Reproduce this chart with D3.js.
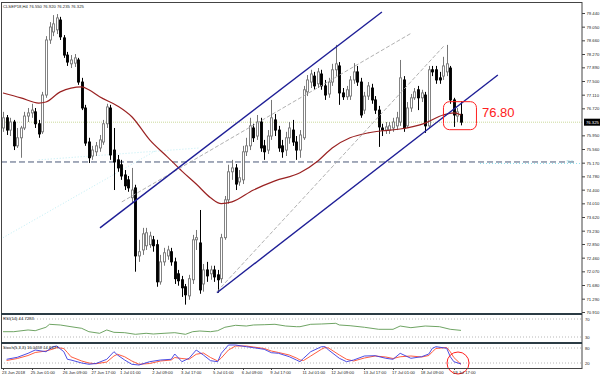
<!DOCTYPE html>
<html>
<head>
<meta charset="utf-8">
<script src="https://cdn.jsdelivr.net/npm/d3@7"></script>
<style>
  body { margin: 0; background: #fff; }
  svg { display: block; font-family: "Liberation Sans", Arial, sans-serif; }
</style>
</head>
<body>
<svg id="chart"></svg>
<script>
// CLSEP18, H4 candles (bar index 0..128)
const opens = [76.16,76.45,76.10,76.33,75.65,75.88,76.16,76.50,76.59,76.62,
  76.28,76.05,77.10,78.67,78.90,78.96,79.24,78.73,78.24,77.99,
  78.01,78.10,77.47,76.73,75.76,75.36,75.48,75.59,75.76,76.28,
  76.73,75.53,75.25,75.11,74.82,74.68,74.17,74.45,72.51,72.68,
  72.80,72.83,72.97,72.83,71.77,72.34,72.51,72.63,72.34,72.00,
  71.83,71.63,71.37,71.83,72.97,72.88,71.71,72.11,72.00,72.11,
  71.97,71.86,73.03,74.11,74.91,75.02,74.62,74.68,75.48,75.65,
  76.16,75.93,76.33,75.65,75.53,75.93,76.39,76.10,75.65,75.53,
  75.88,76.10,75.76,75.53,75.88,77.19,77.47,77.64,77.42,77.70,
  77.36,77.13,77.47,77.82,77.93,77.16,77.05,77.07,77.53,77.76,
  77.47,76.67,77.07,77.30,76.96,76.67,76.16,76.10,76.10,76.16,
  76.22,76.33,77.53,76.22,76.73,77.02,77.25,77.02,77.10,76.22,
  77.82,77.82,77.59,77.64,77.76,77.87,76.96,76.50,76.55];
const highs = [76.62,76.53,76.45,76.39,76.16,76.22,76.62,76.73,76.85,76.73,
  76.39,77.19,78.78,79.18,79.38,79.41,79.33,78.81,78.33,78.24,
  78.27,78.16,77.59,76.82,75.88,75.65,75.76,75.96,76.39,76.85,
  76.82,76.16,75.39,75.25,74.96,74.79,75.02,74.54,72.97,73.31,
  73.31,73.20,73.08,72.97,72.54,72.74,72.80,72.74,72.46,72.11,
  71.94,71.71,71.97,73.11,73.25,73.82,72.28,72.34,72.23,72.23,
  72.11,73.14,74.22,75.11,75.25,75.13,74.96,75.65,75.88,76.45,
  76.28,76.53,76.45,75.82,76.10,76.96,76.56,76.22,75.82,76.05,
  76.33,76.39,75.93,76.10,77.36,77.67,77.82,77.76,77.87,77.82,
  77.53,77.59,77.99,78.53,78.04,77.30,77.36,77.64,78.01,77.93,
  77.59,77.19,77.47,77.42,77.07,76.79,76.28,76.33,76.33,76.45,
  76.62,78.10,77.64,76.90,77.13,77.30,77.36,77.25,77.19,77.93,
  77.93,77.93,77.76,78.19,78.53,77.93,77.02,76.73,76.92];
const lows = [76.05,75.96,75.93,75.53,75.59,75.31,76.10,76.33,76.45,76.16,
  75.88,75.99,77.02,78.56,78.78,78.84,78.67,78.16,77.93,77.87,
  77.90,77.39,76.67,75.65,75.16,75.25,75.36,75.48,75.68,76.16,
  75.25,74.39,74.91,74.68,74.39,74.34,74.02,72.06,72.34,72.54,
  72.68,72.74,72.63,71.63,71.69,72.23,72.40,72.23,71.71,71.66,
  71.34,71.12,71.26,71.71,72.68,71.43,71.49,71.77,71.83,71.77,
  71.46,71.74,72.97,74.00,74.68,74.39,74.51,74.56,75.36,75.53,
  75.76,75.82,75.48,75.25,75.42,75.82,75.93,75.48,75.31,75.36,
  75.71,75.65,75.25,75.31,75.82,77.07,77.30,77.25,77.30,77.25,
  76.96,77.02,77.36,77.64,76.82,76.96,76.96,76.96,77.42,77.36,
  76.45,76.56,76.96,76.85,76.56,75.62,75.93,75.99,75.99,76.05,
  76.10,76.22,76.05,76.16,76.62,76.96,76.67,76.90,76.02,76.16,
  77.64,77.42,77.42,77.53,77.64,76.85,76.19,76.33,76.235];
const closes = [76.45,76.10,76.33,75.65,75.88,76.16,76.50,76.59,76.67,76.28,
  75.99,77.10,78.67,79.04,79.13,79.30,78.76,78.24,78.04,78.10,
  78.16,77.47,76.73,75.73,75.31,75.53,75.65,75.82,76.28,76.76,
  75.39,75.19,75.02,74.79,74.51,74.45,74.39,72.51,72.63,73.14,
  73.17,73.08,72.80,71.77,72.34,72.60,72.68,72.34,71.86,71.80,
  71.60,71.40,71.86,72.97,73.03,71.54,72.11,71.94,72.11,71.91,
  71.83,73.03,74.11,74.91,75.02,74.56,74.74,75.48,75.65,76.22,
  75.88,76.33,75.59,75.48,75.93,76.45,76.10,75.59,75.48,75.88,
  76.16,75.76,75.53,75.96,77.25,77.53,77.70,77.36,77.76,77.36,
  77.10,77.47,77.82,77.99,77.16,77.05,77.25,77.53,77.76,77.47,
  76.53,77.07,77.36,76.96,76.67,76.19,76.10,76.19,76.22,76.33,
  76.45,77.59,76.16,76.73,77.02,77.19,77.02,77.16,76.22,77.82,
  77.76,77.53,77.53,77.93,77.99,76.96,76.53,76.62,76.325];

// moving average: [bar index, price]
const maPoints = [[0,77.16],[5,77.02],[10,76.87],[12,76.90],[16,77.19],[22,77.33],[24,77.25],
  [27,77.05],[32,76.79],[36,76.48],[41,75.82],[46,75.33],[50,74.93],[54,74.56],[58,74.17],
  [61,74.00],[64,74.05],[70,74.39],[76,74.65],[83,74.88],[88,75.22],[92,75.59],[97,75.88],
  [102,76.02],[106,76.08],[111,76.13],[118,76.30],[123,76.53],[126,76.59],[128,76.53]];

// RSI(14): [bar index, value]
const rsiPoints = [[0,41.8],[3,41.8],[7,45.6],[9,44.0],[12,51.6],[13,58.2],[16,56.7],[19,52.9],
  [22,49.3],[24,41.8],[27,38.2],[29,45.6],[31,40.4],[34,39.6],[37,36.0],[40,38.2],[42,36.7],
  [45,38.2],[48,39.6],[51,36.0],[53,41.8],[55,43.3],[58,41.8],[60,44.0],[62,51.6],[65,56.0],
  [68,54.4],[70,56.7],[73,57.3],[76,58.2],[79,54.4],[82,52.9],[83,52.9],[86,58.2],[89,58.9],
  [93,60.4],[94,56.7],[97,55.1],[101,51.6],[105,47.1],[109,47.1],[111,54.4],[114,50.7],
  [118,54.4],[122,52.9],[125,47.1],[128,44.7]];

// Stochastic(5,3,3) main (blue) and signal (red)
const stochMain = [[1,34.8],[4,42.8],[7,58.8],[9,72],[12,65.2],[14,85.2],[15,88],[17,65.2],[18,34.8],
  [19,32],[22,20],[24,15],[26,18],[29,34.8],[31,65.2],[32,52],[34,32],[36,14.8],[38,12],[41,25.2],
  [44,32],[47,34.8],[48,56],[50,25.2],[52,38.8],[54,72],[56,52],[58,29.2],[60,25.2],[61,58.8],
  [63,92],[65,92],[68,85.2],[70,81.2],[73,74.8],[75,61.2],[77,58.8],[80,45.2],[82,32],[83,25.2],
  [84,38.8],[86,65.2],[89,85.2],[90,85.2],[91,72],[94,38.8],[96,25.2],[98,32],[101,48],[104,49.2],
  [107,38.8],[109,34.8],[111,58.8],[114,38.8],[117,45.2],[119,56],[120,78.8],[121,85.2],[124,78.8],
  [125,45.2],[126,25.2],[128,16.0]];
const stochSignal = [[1,30],[4,38],[7,50],[9,62],[12,68],[14,76],[15,82],[17,78],[18,62],[19,45],
  [22,28],[24,20],[26,17],[29,24],[31,48],[32,55],[34,45],[36,28],[38,15],[41,18],[44,28],[47,32],
  [48,42],[50,38],[52,35],[54,55],[56,60],[58,42],[60,28],[61,40],[63,72],[65,88],[68,88],[70,84],
  [73,78],[75,68],[77,62],[80,52],[82,40],[83,32],[84,30],[86,48],[89,75],[90,82],[91,80],[94,52],
  [96,35],[98,28],[101,40],[104,48],[107,44],[109,38],[111,45],[114,48],[117,44],[119,50],[120,65],
  [121,78],[124,82],[125,65],[126,42],[128,14.8]];

// trend lines: [bar index, price] endpoints
const channelLines = [[[27.1,73.31],[105.9,79.47]], [[59.8,71.46],[138.3,77.67]]];
const dashedLines = [[[59.8,71.49],[123.5,78.53]], [[33.2,74.05],[114.2,78.87]]];
const faintLines = [[[0,73.03],[43,75.53]], [[10,75.25],[55,75.59]]];

const priceTicks = [79.440,79.050,78.660,78.270,77.890,77.500,77.110,76.720,75.950,75.560,75.170,
  74.780,74.400,74.010,73.620,73.230,72.850,72.460,72.070,71.680,71.290,70.910];
const timeTickBars = [0,8,17,25,33,42,50,59,67,75,84,92,101,109,117,126];
const timeTickLabels = ["23 Jun 2018","25 Jun 01:00","26 Jun 09:00","27 Jun 17:00","1 Jul 01:00",
  "2 Jul 09:00","3 Jul 17:00","5 Jul 01:00","6 Jul 09:00","9 Jul 17:00","11 Jul 01:00",
  "12 Jul 09:00","13 Jul 17:00","17 Jul 01:00","18 Jul 09:00","19 Jul 17:00"];

const lastPrice = 76.325;
const supportLevel = 75.19;
const headerText = "CLSEP18,H4  76.550 76.920 76.235 76.325";
const rsiText = "RSI(14) 44.7283";
const stochText = "Stoch(5,3,3) 16.0459 14.8377";
const noteText = "76.80";

const width = 600, height = 376;
const plotRight = 582;
const mainTop = 2, mainBottom = 314, rsiBottom = 343, stochBottom = 368;
const tiny = 4.2; // the screenshot text is very small

const svg = d3.select("#chart").attr("width", width).attr("height", height);

const x = d3.scaleLinear().domain([0, closes.length - 1]).range([3, 461]);
const y = d3.scaleLinear().domain([70.91, 79.44]).range([312, 13]);
const yRsi = d3.scaleLinear().domain([30, 70]).range([337, 319]);
const yStoch = d3.scaleLinear().domain([20, 80]).range([363, 348]);

// clip regions for the three panels
const defs = svg.append("defs");
function addClip(id, y0, y1) {
  defs.append("clipPath").attr("id", id)
    .append("rect").attr("x", 1).attr("y", y0).attr("width", plotRight - 1).attr("height", y1 - y0);
}
addClip("clipMain", mainTop, mainBottom);
addClip("clipRsi", mainBottom, rsiBottom);
addClip("clipStoch", rsiBottom, stochBottom);

const main = svg.append("g").attr("clip-path", "url(#clipMain)");

// horizontal levels
main.append("line")
  .attr("x1", 1).attr("x2", plotRight).attr("y1", y(lastPrice)).attr("y2", y(lastPrice))
  .attr("stroke", "#cbd99c").attr("stroke-dasharray", "1,1");
main.append("line")
  .attr("x1", 1).attr("x2", 575).attr("y1", y(supportLevel)).attr("y2", y(supportLevel))
  .attr("stroke", "#4a5878").attr("stroke-dasharray", "6,3");
main.append("line")
  .attr("x1", 480).attr("x2", plotRight).attr("y1", y(supportLevel) + 1.5).attr("y2", y(supportLevel) + 1.5)
  .attr("stroke", "#8fe0ec").attr("stroke-dasharray", "1,2");
main.append("text")
  .attr("x", 566).attr("y", y(supportLevel) + 1)
  .attr("font-size", 3.5).attr("fill", "#7fd3e0").text("75.2");

const seg = d3.line().x(d => x(d[0])).y(d => y(d[1]));

main.selectAll(".faint").data(faintLines).join("path")
  .attr("d", seg).attr("fill", "none")
  .attr("stroke", "#bfeef5").attr("stroke-dasharray", "1,2");

// candles
const candles = main.append("g");
const bars = closes.map((c, i) => ({ i, o: opens[i], h: highs[i], l: lows[i], c }));
const cx = d => Math.round(x(d.i)) + 0.5;

candles.selectAll("line").data(bars).join("line")
  .attr("x1", cx).attr("x2", cx)
  .attr("y1", d => y(d.h)).attr("y2", d => y(d.l))
  .attr("stroke", d => d.c >= d.o ? "#777" : "#000");

candles.selectAll("rect").data(bars).join("rect")
  .attr("x", d => cx(d) - 1)
  .attr("width", 2)
  .attr("y", d => y(Math.max(d.o, d.c)))
  .attr("height", d => Math.max(0.8, Math.abs(y(d.o) - y(d.c))))
  .attr("fill", d => d.c >= d.o ? "#fff" : "#000")
  .attr("stroke", d => d.c >= d.o ? "#777" : "#000")
  .attr("stroke-width", 0.9);

// moving average
main.append("path")
  .datum(maPoints)
  .attr("d", d3.line().x(d => x(d[0])).y(d => y(d[1])).curve(d3.curveMonotoneX))
  .attr("fill", "none").attr("stroke", "#9a2222").attr("stroke-width", 1.2);

// trend lines
main.selectAll(".dash").data(dashedLines).join("path")
  .attr("d", seg).attr("fill", "none")
  .attr("stroke", "#a8a8a8").attr("stroke-width", 0.9).attr("stroke-dasharray", "4,2");
main.selectAll(".chan").data(channelLines).join("path")
  .attr("d", seg).attr("fill", "none")
  .attr("stroke", "#1e1e96").attr("stroke-width", 1.4);

// red note near the last candles
svg.append("rect")
  .attr("x", x(123.1)).attr("y", y(76.91)).attr("width", 33).attr("height", 28).attr("rx", 6)
  .attr("fill", "none").attr("stroke", "#ff2020").attr("stroke-width", 1);
svg.append("text")
  .attr("x", 482).attr("y", y(76.46))
  .attr("font-size", 13).attr("fill", "#ff2020").text(noteText);

svg.append("text")
  .attr("x", 3).attr("y", 7.5).attr("font-size", tiny).attr("fill", "#222").text(headerText);

// RSI panel
const rsiG = svg.append("g").attr("clip-path", "url(#clipRsi)");
[70, 30].forEach(v => rsiG.append("line")
  .attr("x1", 1).attr("x2", plotRight).attr("y1", yRsi(v)).attr("y2", yRsi(v))
  .attr("stroke", "#b8b8b8").attr("stroke-dasharray", "1,2"));
rsiG.append("path").datum(rsiPoints)
  .attr("d", d3.line().x(d => x(d[0])).y(d => yRsi(d[1])))
  .attr("fill", "none").attr("stroke", "#5f9a52").attr("stroke-width", 0.9);
svg.append("text").attr("x", 3).attr("y", 320).attr("font-size", tiny).attr("fill", "#222").text(rsiText);

// Stochastic panel
const stG = svg.append("g").attr("clip-path", "url(#clipStoch)");
[80, 20].forEach(v => stG.append("line")
  .attr("x1", 1).attr("x2", plotRight).attr("y1", yStoch(v)).attr("y2", yStoch(v))
  .attr("stroke", "#b8b8b8").attr("stroke-dasharray", "1,2"));
stG.append("path").datum(stochSignal)
  .attr("d", d3.line().x(d => x(d[0])).y(d => yStoch(d[1])))
  .attr("fill", "none").attr("stroke", "#ff4a2a").attr("stroke-width", 0.9);
stG.append("path").datum(stochMain)
  .attr("d", d3.line().x(d => x(d[0])).y(d => yStoch(d[1])))
  .attr("fill", "none").attr("stroke", "#3a3ae0").attr("stroke-width", 0.9);
svg.append("text").attr("x", 3).attr("y", 349).attr("font-size", tiny).attr("fill", "#222").text(stochText);

svg.append("circle")
  .attr("cx", 458).attr("cy", 363).attr("r", 11)
  .attr("fill", "none").attr("stroke", "#ff2020").attr("stroke-width", 1);

// frame and separators
svg.append("rect")
  .attr("x", 1.5).attr("y", mainTop + 0.5).attr("width", plotRight - 1.5).attr("height", stochBottom - mainTop)
  .attr("fill", "none").attr("stroke", "#444");
[mainBottom, rsiBottom].forEach(v => svg.append("rect")
  .attr("x", 1).attr("y", v - 1).attr("width", plotRight - 1).attr("height", 2).attr("fill", "#2b3b44"));

// price axis
const yAxis = d3.axisRight(y).tickValues(priceTicks).tickFormat(d3.format(".3f")).tickSize(3).tickPadding(1.5);
const axG = svg.append("g").attr("transform", `translate(${plotRight},0)`).call(yAxis);
axG.select(".domain").remove();
axG.selectAll("line").attr("stroke", "#444");
axG.selectAll("text").attr("font-size", tiny).attr("fill", "#222").attr("font-family", "Liberation Sans, Arial");

// last price marker
svg.append("rect").attr("x", plotRight + 2).attr("y", y(lastPrice) - 3.5).attr("width", 16).attr("height", 7).attr("fill", "#000");
svg.append("text").attr("x", plotRight + 4).attr("y", y(lastPrice) + 1.6)
  .attr("font-size", tiny).attr("fill", "#fff").text(d3.format(".3f")(lastPrice));

// indicator level labels
const levelLabels = [[yRsi(70), "70"], [yRsi(30), "30"], [yStoch(80), "80"], [yStoch(20), "20"]];
levelLabels.forEach(([ly, t]) => svg.append("text")
  .attr("x", plotRight + 3).attr("y", ly + 1.5).attr("font-size", tiny).attr("fill", "#222").text(t));

// time axis
const tg = svg.append("g");
tg.selectAll("line").data(timeTickBars).join("line")
  .attr("x1", d => Math.round(x(d)) + 0.5).attr("x2", d => Math.round(x(d)) + 0.5)
  .attr("y1", stochBottom).attr("y2", stochBottom + 2).attr("stroke", "#444");
tg.selectAll("text").data(timeTickBars).join("text")
  .attr("x", d => x(d) - 1).attr("y", 374)
  .attr("font-size", tiny).attr("fill", "#222")
  .text((d, i) => timeTickLabels[i]);
</script>
</body>
</html>
